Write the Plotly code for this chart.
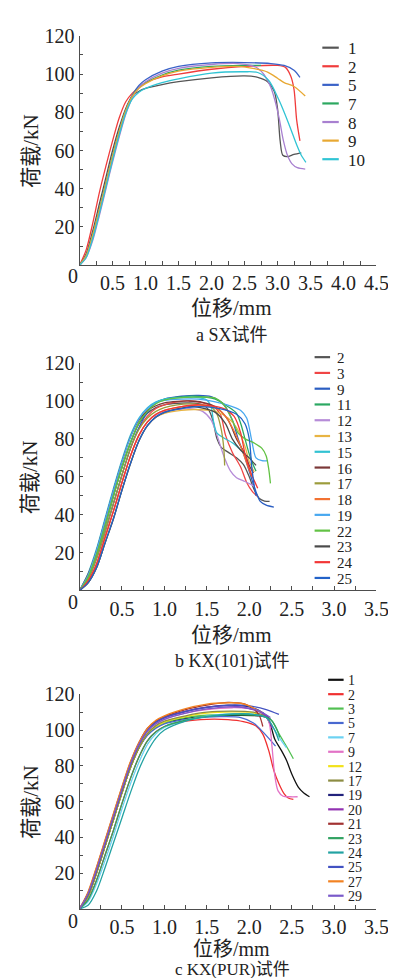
import plotly.graph_objects as go

W, H = 396, 978

# ---------------- Panel a: SX ----------------
a_labels = ["1", "2", "5", "7", "8", "9", "10"]
a_colors = ["#555555", "#f03c3c", "#3a62c8", "#2ca860", "#a880d0", "#e8a832", "#30c4d4"]
a1_x = [0, 0.1, 0.2, 0.3, 0.4, 0.5, 0.6, 0.7, 0.8, 0.9, 1.0, 1.25, 1.5, 2.0, 2.5, 2.7, 2.85, 2.95, 3.0, 3.04, 3.08, 3.15, 3.25, 3.36]
a1_y = [0, 6, 18, 32, 46, 60, 72, 82, 88.5, 91, 92.5, 94.5, 96, 98, 99, 98.3, 96, 91, 82, 65, 57.5, 56.8, 58, 58.8]
a2_x = [0, 0.1, 0.2, 0.3, 0.4, 0.5, 0.6, 0.7, 0.8, 0.9, 1.0, 1.25, 1.5, 2.0, 2.5, 3.0, 3.12, 3.2, 3.25, 3.29, 3.34]
a2_y = [0, 8, 22, 38, 52, 65, 77, 85.5, 90, 93, 95.5, 98.5, 100, 102.5, 104, 104.5, 103.5, 99, 92, 76, 65]
a5_x = [0, 0.1, 0.2, 0.3, 0.4, 0.5, 0.6, 0.7, 0.8, 0.9, 1.0, 1.25, 1.5, 2.0, 2.5, 2.9, 3.1, 3.25, 3.34]
a5_y = [0, 5, 16, 29, 43, 57, 70, 81, 89, 94, 97, 101.5, 104, 105.8, 106, 105.5, 104.5, 102, 98.3]
a7_x = [0, 0.1, 0.2, 0.3, 0.4, 0.5, 0.6, 0.7, 0.8, 0.9, 1.0, 1.25, 1.5, 2.0, 2.5, 2.75]
a7_y = [0, 5, 16, 29, 43, 57, 70, 81, 88.5, 93, 95.5, 99.5, 102, 104, 104.5, 104.5]
a8_x = [0, 0.1, 0.2, 0.3, 0.4, 0.5, 0.6, 0.7, 0.8, 0.9, 1.0, 1.25, 1.5, 2.0, 2.4, 2.6, 2.7, 2.8, 2.9, 2.97, 3.03, 3.09, 3.15, 3.22, 3.3, 3.42]
a8_y = [0, 4, 13, 26, 40, 54, 67, 79, 87.5, 93, 96, 100.5, 103, 105, 105.5, 104.5, 103, 99.5, 93, 85, 76, 65, 57.5, 53, 51, 50.3]
a9_x = [0, 0.1, 0.2, 0.3, 0.4, 0.5, 0.6, 0.7, 0.8, 0.9, 1.0, 1.25, 1.5, 2.0, 2.4, 2.65, 2.85, 3.0, 3.1, 3.25, 3.42]
a9_y = [0, 5, 16, 29, 43, 57, 70, 81, 88.5, 92.5, 95, 99, 101.5, 103.5, 104, 102.8, 101, 97.8, 95.5, 93.5, 88.5]
a10_x = [0, 0.1, 0.2, 0.3, 0.4, 0.5, 0.6, 0.7, 0.8, 0.9, 1.0, 1.25, 1.5, 2.0, 2.5, 2.7, 2.87, 3.02, 3.17, 3.29, 3.36, 3.43]
a10_y = [0, 4, 14, 27, 41, 55, 68, 79.5, 87, 90.5, 92.5, 95.5, 97.5, 100.5, 101.2, 100.8, 96.5, 86.5, 74, 63, 57.5, 53.8]
a_series = [(a1_x, a1_y), (a2_x, a2_y), (a5_x, a5_y), (a7_x, a7_y), (a8_x, a8_y), (a9_x, a9_y), (a10_x, a10_y)]

# ---------------- Panel b: KX(101) ----------------
b_labels = ["2", "3", "9", "11", "12", "13", "15", "16", "17", "18", "19", "22", "23", "24", "25"]
b_colors = ["#555555", "#f04545", "#2b5ec2", "#2ba862", "#b68cd8", "#e8b443", "#32c2d2", "#7b3838",
            "#9c9c3c", "#f27232", "#48a8f0", "#62c244", "#4a4a4a", "#f23636", "#2262c8"]
b2_x = [0, 0.1, 0.2, 0.3, 0.4, 0.5, 0.6, 0.7, 0.8, 0.9, 1.0, 1.15, 1.3, 1.45, 1.52, 1.57, 1.62, 1.67, 1.75, 1.85, 1.93, 2.0, 2.06, 2.12, 2.18, 2.24]
b2_y = [0, 7, 19, 34, 50, 65, 78, 88, 93.5, 96.5, 98, 98.8, 99, 98, 95.5, 90, 80, 75.5, 73, 70, 66.5, 60, 53, 48.5, 47.2, 47]
b3_x = [0, 0.1, 0.2, 0.3, 0.4, 0.5, 0.6, 0.7, 0.8, 0.9, 1.0, 1.15, 1.3, 1.45, 1.58, 1.66, 1.72, 1.8, 1.9, 1.97, 2.04, 2.1]
b3_y = [0, 6, 17, 31, 46, 61, 75, 85.5, 92, 96, 98, 99.5, 100, 99, 97, 93, 82, 73, 65, 57, 52, 49.5]
b9_x = [0, 0.1, 0.2, 0.3, 0.4, 0.5, 0.6, 0.7, 0.8, 0.9, 1.0, 1.2, 1.4, 1.55, 1.7, 1.8, 1.87, 1.95, 2.02, 2.08, 2.13, 2.2, 2.29]
b9_y = [0, 6, 17, 31, 46, 61, 75, 86, 94, 99, 101, 102.5, 103, 102.3, 98, 90, 80, 70, 60, 52, 47, 45, 44]
b11_x = [0, 0.1, 0.2, 0.3, 0.4, 0.5, 0.6, 0.7, 0.8, 0.9, 1.0, 1.2, 1.35, 1.6, 1.75, 1.85, 1.9, 1.95, 2.0, 2.05, 2.08]
b11_y = [0, 7, 19, 34, 50, 65, 78, 88.5, 95, 99, 100.8, 102.2, 102.5, 101, 97, 93.5, 88, 80, 72, 66, 63]
b12_x = [0, 0.1, 0.2, 0.3, 0.4, 0.5, 0.6, 0.7, 0.8, 0.9, 1.0, 1.15, 1.3, 1.45, 1.55, 1.62, 1.7, 1.78, 1.85, 1.95, 2.02, 2.06]
b12_y = [0, 5, 14, 28, 42, 57, 71, 82, 89, 92.5, 94.5, 95.5, 96, 94.5, 90, 82, 71, 63, 59.5, 57.5, 56, 55]
b13_x = [0, 0.1, 0.2, 0.3, 0.4, 0.5, 0.6, 0.7, 0.8, 0.9, 1.0, 1.2, 1.35, 1.6, 1.75, 1.85, 1.95, 2.0, 2.06]
b13_y = [0, 4, 12, 25, 38, 53, 67, 79, 87, 91.5, 93.5, 95, 95.5, 94.5, 91, 86, 76, 68, 62.5]
b15_x = [0, 0.1, 0.2, 0.3, 0.4, 0.5, 0.6, 0.7, 0.8, 0.9, 1.0, 1.2, 1.35, 1.5, 1.55, 1.58, 1.62, 1.7, 1.8, 1.88, 1.95]
b15_y = [0, 9, 22, 38, 54, 69, 82, 91, 96.5, 99.5, 101, 101.8, 102, 100.5, 97, 89, 83, 80.5, 78, 75, 72]
b16_x = [0, 0.1, 0.2, 0.3, 0.4, 0.5, 0.6, 0.7, 0.8, 0.9, 1.0, 1.15, 1.3, 1.45, 1.6, 1.75, 1.85, 1.95, 2.0, 2.05]
b16_y = [0, 8.5, 21, 37, 53, 68, 81, 90, 95, 97.5, 99, 99.8, 100, 99.3, 97, 90, 80, 72, 66, 62]
b17_x = [0, 0.1, 0.2, 0.3, 0.4, 0.5, 0.6, 0.7, 0.8, 0.9, 1.0, 1.15, 1.3, 1.45, 1.55, 1.62, 1.67, 1.7, 1.71]
b17_y = [0, 6, 17, 31, 46, 61, 75, 85, 91, 94.5, 96.5, 98, 98.5, 98, 97, 93, 85, 75, 66]
b18_x = [0, 0.1, 0.2, 0.3, 0.4, 0.5, 0.6, 0.7, 0.8, 0.9, 1.0, 1.2, 1.35, 1.6, 1.7, 1.8, 1.9, 1.98, 2.03]
b18_y = [0, 5, 14, 28, 42, 57, 71, 82, 89, 93, 95, 97, 97.5, 96.5, 93, 86, 76, 66, 60]
b19_x = [0, 0.1, 0.2, 0.3, 0.4, 0.5, 0.6, 0.7, 0.8, 0.9, 1.0, 1.2, 1.4, 1.6, 1.8, 1.9, 1.97, 2.03, 2.08, 2.15, 2.22]
b19_y = [0, 8, 21, 37, 53, 68, 81, 90.5, 96, 99, 100.3, 101, 101, 99.5, 97, 95, 91, 79, 70, 68.5, 68.5]
b22_x = [0, 0.1, 0.2, 0.3, 0.4, 0.5, 0.6, 0.7, 0.8, 0.9, 1.0, 1.2, 1.4, 1.6, 1.7, 1.8, 1.87, 1.95, 2.05, 2.15, 2.2, 2.23, 2.25]
b22_y = [0, 7, 19, 34, 50, 65, 78, 88.5, 94.5, 98.5, 100.5, 101.8, 102, 101.5, 98, 90, 83, 80, 78, 75, 71, 64, 56.5]
b23_x = [0, 0.1, 0.2, 0.3, 0.4, 0.5, 0.6, 0.7, 0.8, 0.9, 1.0, 1.2, 1.35, 1.6, 1.72, 1.8, 1.9, 2.0, 2.08]
b23_y = [0, 4, 12, 25, 38, 53, 67, 79, 87, 91.5, 94, 96.2, 97, 94, 88, 80, 74, 70, 66]
b24_x = [0, 0.1, 0.2, 0.3, 0.4, 0.5, 0.6, 0.7, 0.8, 0.9, 1.0, 1.2, 1.4, 1.7, 1.82, 1.9, 1.95, 2.02, 2.1]
b24_y = [0, 5, 14, 28, 42, 57, 71, 82, 89, 93, 95, 97, 98, 96, 92, 83, 72, 62, 54]
b25_x = [0, 0.1, 0.2, 0.3, 0.4, 0.5, 0.6, 0.7, 0.8, 0.9, 1.0, 1.2, 1.4, 1.65, 1.85, 1.95, 2.0, 2.03, 2.06, 2.08]
b25_y = [0, 4, 12, 25, 38, 53, 67, 79, 87, 91.5, 94, 96, 97, 96, 93, 88, 80, 65, 55, 50]
b_series = [(b2_x, b2_y), (b3_x, b3_y), (b9_x, b9_y), (b11_x, b11_y), (b12_x, b12_y), (b13_x, b13_y),
            (b15_x, b15_y), (b16_x, b16_y), (b17_x, b17_y), (b18_x, b18_y), (b19_x, b19_y),
            (b22_x, b22_y), (b23_x, b23_y), (b24_x, b24_y), (b25_x, b25_y)]

# ---------------- Panel c: KX(PUR) ----------------
c_labels = ["1", "2", "3", "5", "7", "9", "12", "17", "19", "20", "21", "23", "24", "25", "27", "29"]
c_colors = ["#111111", "#f03030", "#52c052", "#4868d0", "#6cd2f2", "#e272c6", "#f2e21a", "#8c8c42",
            "#22227c", "#9232b2", "#a23232", "#32a262", "#22a2a2", "#4252c2", "#f28222", "#7a5aca"]
c1_x = [0, 0.1, 0.2, 0.3, 0.4, 0.5, 0.6, 0.7, 0.8, 0.9, 1.0, 1.25, 1.5, 1.8, 2.1, 2.2, 2.25, 2.3, 2.38, 2.44, 2.5, 2.58, 2.64, 2.71]
c1_y = [0, 7, 20, 35, 50, 65, 79, 90, 97.5, 101.5, 104, 106.5, 107.8, 108.2, 108, 107, 103, 95, 88.5, 83, 75.6, 68, 65, 62.7]
c2_x = [0, 0.1, 0.2, 0.3, 0.4, 0.5, 0.6, 0.7, 0.8, 0.9, 1.0, 1.25, 1.5, 1.75, 1.93, 2.08, 2.16, 2.23, 2.29, 2.35, 2.41, 2.46, 2.52]
c2_y = [0, 5, 16, 30, 44, 59, 73, 85, 94, 99, 102, 105, 106, 105.8, 104.7, 102.3, 97.7, 88.5, 77.4, 70, 64.5, 62, 61.2]
c3_x = [0, 0.1, 0.2, 0.3, 0.4, 0.5, 0.6, 0.7, 0.8, 0.9, 1.0, 1.25, 1.5, 1.8, 2.1, 2.2, 2.27, 2.35, 2.45, 2.52]
c3_y = [0, 7, 20, 35, 50, 65, 79, 90, 97.5, 101.5, 104, 107, 108.3, 108.8, 108.5, 107.5, 105, 98, 90, 84]
c5_x = [0, 0.1, 0.2, 0.3, 0.4, 0.5, 0.6, 0.7, 0.8, 0.9, 1.0, 1.25, 1.5, 1.7, 1.9, 2.05, 2.18, 2.31]
c5_y = [0, 7, 20, 35, 50, 65, 79, 90, 97, 101, 103.5, 106, 107.3, 107.5, 107, 104, 98, 91]
c7_x = [0, 0.1, 0.2, 0.3, 0.4, 0.5, 0.6, 0.7, 0.8, 0.9, 1.0, 1.25, 1.5, 1.8, 2.05, 2.2, 2.3, 2.38, 2.44]
c7_y = [0, 4, 14, 27, 41, 56, 70, 82, 92, 98, 101.5, 105.5, 107.8, 109, 109, 107, 100, 94, 90]
c9_x = [0, 0.1, 0.2, 0.3, 0.4, 0.5, 0.6, 0.7, 0.8, 0.9, 1.0, 1.25, 1.5, 1.8, 2.0, 2.1, 2.2, 2.24, 2.27, 2.3, 2.34, 2.4, 2.48, 2.57]
c9_y = [0, 8, 21, 36, 51, 66, 80, 91, 99, 103.5, 106, 109.5, 111.5, 112.5, 112, 111, 108, 103, 90, 75, 66, 63, 62.7, 62.7]
c12_x = [0, 0.1, 0.2, 0.3, 0.4, 0.5, 0.6, 0.7, 0.8, 0.9, 1.0, 1.25, 1.5, 1.8, 2.0, 2.1]
c12_y = [0, 7, 20, 35, 50, 65, 79, 90, 98, 102, 104.5, 107.5, 109.5, 110.2, 110, 109]
c17_x = [0, 0.1, 0.2, 0.3, 0.4, 0.5, 0.6, 0.7, 0.8, 0.9, 1.0, 1.25, 1.5, 1.8, 2.05, 2.2]
c17_y = [0, 7, 20, 35, 50, 65, 79, 90, 98, 102.5, 105, 108, 110, 110.6, 110, 108]
c19_x = [0, 0.1, 0.2, 0.3, 0.4, 0.5, 0.6, 0.7, 0.8, 0.9, 1.0, 1.25, 1.5, 1.75, 2.0, 2.15, 2.25]
c19_y = [0, 8.5, 22, 37, 52, 67, 81, 92, 100, 104.5, 107, 110.5, 112.8, 114, 113, 110, 106]
c20_x = [0, 0.1, 0.2, 0.3, 0.4, 0.5, 0.6, 0.7, 0.8, 0.9, 1.0, 1.25, 1.5, 1.7, 2.0, 2.2, 2.27]
c20_y = [0, 8.5, 22, 37, 52, 67, 81, 92, 100, 104.5, 107, 110.5, 112.7, 113.5, 112, 108, 101]
c21_x = [0, 0.1, 0.2, 0.3, 0.4, 0.5, 0.6, 0.7, 0.8, 0.9, 1.0, 1.25, 1.5, 1.75, 1.95, 2.05, 2.12, 2.16]
c21_y = [0, 9, 23, 38, 53, 68, 82, 93, 101, 105, 107.5, 111.5, 114, 115.5, 114.5, 112, 108, 102]
c23_x = [0, 0.1, 0.2, 0.3, 0.4, 0.5, 0.6, 0.7, 0.8, 0.9, 1.0, 1.25, 1.5, 1.8, 2.15, 2.25, 2.32, 2.36]
c23_y = [0, 5, 16, 30, 44, 59, 73, 85, 94, 99, 102, 105.5, 107.5, 108.5, 108, 106, 101, 96]
c24_x = [0, 0.1, 0.2, 0.3, 0.4, 0.5, 0.6, 0.7, 0.8, 0.9, 1.0, 1.25, 1.5, 1.8, 2.0, 2.2, 2.3, 2.35]
c24_y = [0, 2, 10, 23, 37, 51, 65, 78, 88, 95.5, 100, 105, 107.5, 109, 109, 107, 100, 94]
c25_x = [0, 0.1, 0.2, 0.3, 0.4, 0.5, 0.6, 0.7, 0.8, 0.9, 1.0, 1.25, 1.5, 1.8, 2.0, 2.2, 2.35]
c25_y = [0, 8.5, 22, 37, 52, 67, 81, 92, 100, 104.5, 107, 110.5, 112.7, 114, 113.5, 111.5, 108.8]
c27_x = [0, 0.1, 0.2, 0.3, 0.4, 0.5, 0.6, 0.7, 0.8, 0.9, 1.0, 1.25, 1.5, 1.6, 1.9, 2.0, 2.1, 2.15]
c27_y = [0, 9.5, 23.5, 38.5, 53.5, 68.5, 82.5, 93, 101, 105.5, 108, 112, 114.5, 115, 115, 113.5, 111, 110]
c29_x = [0, 0.1, 0.2, 0.3, 0.4, 0.5, 0.6, 0.7, 0.8, 0.9, 1.0, 1.25, 1.5, 1.8, 2.1, 2.25]
c29_y = [0, 8.5, 22, 37, 52, 67, 81, 92, 99.5, 103.5, 106, 109.5, 111.8, 113, 111, 107]
c_series = [(c1_x, c1_y), (c2_x, c2_y), (c3_x, c3_y), (c5_x, c5_y), (c7_x, c7_y), (c9_x, c9_y),
            (c12_x, c12_y), (c17_x, c17_y), (c19_x, c19_y), (c20_x, c20_y), (c21_x, c21_y),
            (c23_x, c23_y), (c24_x, c24_y), (c25_x, c25_y), (c27_x, c27_y), (c29_x, c29_y)]

# ---------------- Axis ticks / titles ----------------
y_ticks = [20, 40, 60, 80, 100, 120]
y_minor = [10, 30, 50, 70, 90, 110]
xa_ticks = [0.5, 1.0, 1.5, 2.0, 2.5, 3.0, 3.5, 4.0, 4.5]
xb_ticks = [0.5, 1.0, 1.5, 2.0, 2.5, 3.0, 3.5]
x_title = "位移/mm"
y_title = "荷载/kN"
captions = ["a SX试件", "b KX(101)试件", "c KX(PUR)试件"]

SERIF = "Liberation Serif, Times New Roman, serif"
CJK = "Liberation Serif, Noto Sans CJK SC, serif"
AXC = "#4d4d4d"
TICKSZ = 20

fig = go.Figure()

panels = [
    dict(series=a_series, labels=a_labels, colors=a_colors, xmax=4.5, xticks=xa_ticks,
         ytop=17, ybot=249, ax="x", ay="y",
         leg_y0=29, leg_dy=18.8, sw=(325, 342), tx=349, legsz=17,
         xt_y=292, xt_sz=21, cap_y=320, cap_sz=18, zero_y=260),
    dict(series=b_series, labels=b_labels, colors=b_colors, xmax=3.5, xticks=xb_ticks,
         ytop=348, ybot=578, ax="x2", ay="y2",
         leg_y0=342, leg_dy=15.95, sw=(317, 333), tx=338, legsz=15,
         xt_y=623, xt_sz=21, cap_y=650, cap_sz=18, zero_y=590),
    dict(series=c_series, labels=c_labels, colors=c_colors, xmax=3.5, xticks=xb_ticks,
         ytop=683, ybot=900, ax="x3", ay="y3",
         leg_y0=668.3, leg_dy=14.56, sw=(331, 347), tx=349, legsz=14,
         xt_y=941, xt_sz=20, cap_y=961, cap_sz=17, zero_y=912),
]

X0, X1 = 74, 381
shapes = []
annotations = []


def px(v):
    return v / W


def py(v):
    return 1 - v / H


for i, p in enumerate(panels):
    for (xs, ys), col in zip(p["series"], p["colors"]):
        fig.add_trace(go.Scatter(x=xs, y=ys, mode="lines", xaxis=p["ax"], yaxis=p["ay"],
                                 line=dict(color=col, width=1.3, shape="spline", smoothing=0.8),
                                 showlegend=False, hoverinfo="skip"))
    sfx = "" if i == 0 else str(i + 1)
    fig.layout["xaxis" + sfx] = dict(
        domain=[px(X0), px(X1)], anchor=p["ay"], range=[0, p["xmax"]],
        tickmode="array", tickvals=p["xticks"], ticktext=[f"{t:.1f}" for t in p["xticks"]],
        showline=True, linecolor=AXC, linewidth=1.3, ticks="inside", ticklen=4,
        tickcolor=AXC, tickwidth=1,
        minor=dict(tickvals=[t - 0.25 for t in p["xticks"]], ticks="inside", ticklen=4,
                   tickcolor=AXC, tickwidth=1),
        showgrid=False, zeroline=False, fixedrange=True,
        tickfont=dict(family=SERIF, size=TICKSZ, color="#222"))
    fig.layout["yaxis" + sfx] = dict(
        domain=[py(p["ybot"]), py(p["ytop"])], anchor=p["ax"], range=[0, 120],
        tickmode="array", tickvals=y_ticks, ticktext=[str(t) for t in y_ticks],
        showline=True, linecolor=AXC, linewidth=1.3, ticks="inside", ticklen=3,
        tickcolor=AXC, tickwidth=1,
        minor=dict(tickvals=y_minor, ticks="inside", ticklen=3, tickcolor=AXC, tickwidth=1),
        showgrid=False, zeroline=False, fixedrange=True,
        tickfont=dict(family=SERIF, size=TICKSZ, color="#222"))

    # custom legend
    for k, (lab, col) in enumerate(zip(p["labels"], p["colors"])):
        yy = p["leg_y0"] + k * p["leg_dy"]
        shapes.append(dict(type="line", xref="paper", yref="paper",
                           x0=px(p["sw"][0]), x1=px(p["sw"][1]), y0=py(yy), y1=py(yy),
                           line=dict(color=col, width=2.2)))
        annotations.append(dict(text=lab, xref="paper", yref="paper", x=px(p["tx"]), y=py(yy + 1),
                                xanchor="left", yanchor="middle", showarrow=False,
                                font=dict(family=SERIF, size=p["legsz"], color="#222")))

    # "0" corner label
    annotations.append(dict(text="0", xref="paper", yref="paper", x=px(67), y=py(p["zero_y"]),
                            xanchor="center", yanchor="middle", showarrow=False,
                            font=dict(family=SERIF, size=TICKSZ, color="#222")))
    # axis titles
    annotations.append(dict(text=x_title, xref="paper", yref="paper", x=px(231), y=py(p["xt_y"]),
                            xanchor="center", yanchor="middle", showarrow=False,
                            font=dict(family=CJK, size=p["xt_sz"], color="#222")))
    annotations.append(dict(text=y_title, xref="paper", yref="paper", x=px(23),
                            y=py((p["ytop"] + p["ybot"]) / 2), textangle=-90,
                            xanchor="center", yanchor="middle", showarrow=False,
                            font=dict(family=CJK, size=21, color="#222")))
    annotations.append(dict(text=captions[i], xref="paper", yref="paper", x=px(232), y=py(p["cap_y"]),
                            xanchor="center", yanchor="middle", showarrow=False,
                            font=dict(family=CJK, size=p["cap_sz"], color="#222")))

fig.update_layout(width=W, height=H, margin=dict(l=0, r=0, t=0, b=0),
                  paper_bgcolor="white", plot_bgcolor="white",
                  shapes=shapes, annotations=annotations, showlegend=False)

fig.write_html("out.html")
